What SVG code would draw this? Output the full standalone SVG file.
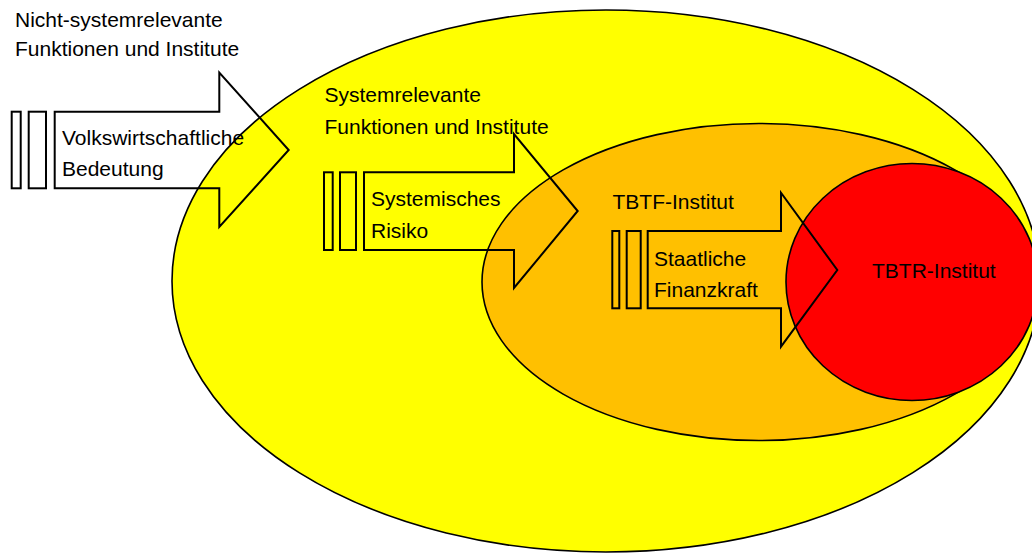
<svg xmlns="http://www.w3.org/2000/svg" width="1032" height="553" viewBox="0 0 1032 553">
<style>
.ell{stroke:#000;stroke-width:1.6}
.arr{fill:none;stroke:#000;stroke-width:2;stroke-linejoin:miter}
.lbl{font-family:"Liberation Sans",Arial,sans-serif;font-size:21px;fill:#000}
</style>
<rect x="0" y="0" width="1032" height="553" fill="#fff"/>
<g id="node-nicht-systemrelevant">
<text class="lbl" x="15" y="27.3">Nicht-systemrelevante</text>
<text class="lbl" x="15" y="55.7">Funktionen und Institute</text>
</g>
<g id="node-systemrelevant">
<ellipse class="ell" cx="606" cy="281" rx="434" ry="271" fill="#FFFF00"/>
<text class="lbl" x="324.5" y="101.7">Systemrelevante</text>
<text class="lbl" x="324.5" y="134">Funktionen und Institute</text>
</g>
<g id="node-tbtf">
<ellipse class="ell" cx="759" cy="282" rx="277" ry="158.5" fill="#FFC000"/>
<text class="lbl" x="612.5" y="209.3">TBTF-Institut</text>
</g>
<g id="node-tbtr">
<ellipse class="ell" cx="912" cy="282" rx="126" ry="118.5" fill="#FF0000"/>
<text class="lbl" x="872" y="278.3">TBTR-Institut</text>
</g>
<g id="connectors">
<g id="arrow-volkswirtschaftlich">
<rect class="arr" x="11.7" y="111.7" width="9" height="76.6"/>
<rect class="arr" x="28.7" y="111.7" width="17.3" height="76.6"/>
<path class="arr" d="M54.7,111.7 H219.3 V72.7 L288.7,150 L219.3,227 V188.3 H54.7 Z"/>
<text class="lbl" x="62" y="145">Volkswirtschaftliche</text>
<text class="lbl" x="62" y="176">Bedeutung</text>
</g>
<g id="arrow-systemisch">
<rect class="arr" x="324" y="172.3" width="8.7" height="77.7"/>
<rect class="arr" x="340" y="172.3" width="16" height="77.7"/>
<path class="arr" d="M364,172.3 H514 V134 L577.7,211 L514,288 V250 H364 Z"/>
<text class="lbl" x="371" y="206">Systemisches</text>
<text class="lbl" x="371" y="238">Risiko</text>
</g>
<g id="arrow-staatlich">
<rect class="arr" x="612.3" y="231" width="7" height="77.3"/>
<rect class="arr" x="626.7" y="231" width="14" height="77.3"/>
<path class="arr" d="M647.7,231 H781 V192.7 L837.3,270 L781,346.7 V308.3 H647.7 Z"/>
<text class="lbl" x="654" y="266">Staatliche</text>
<text class="lbl" x="654" y="297.3">Finanzkraft</text>
</g>
</g>
</svg>
